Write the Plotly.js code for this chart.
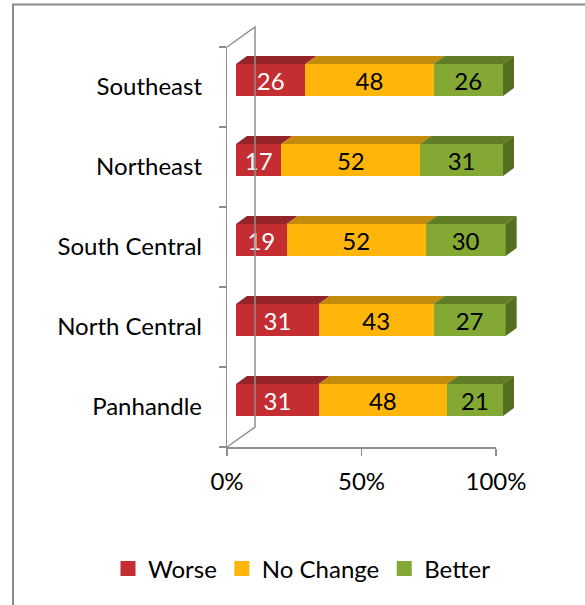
<!DOCTYPE html>
<html>
<head>
<meta charset="utf-8">
<script src="https://cdn.plot.ly/plotly-3.0.1.min.js"></script>
<style>html,body{margin:0;padding:0;background:#fff;}#chart{width:585px;height:605px;}</style>
</head>
<body>
<div id="chart"></div>
<script>
// ---- data ----
var regions = ["Panhandle", "North Central", "South Central", "Northeast", "Southeast"];
var worse = [31, 31, 19, 17, 26];
var noChange = [48, 43, 52, 52, 48];
var better = [21, 27, 30, 31, 26];
var seriesNames = ["Worse", "No Change", "Better"];
var xTickVals = [0, 50, 100];
var xTickText = ["0%", "50%", "100%"];

// ---- style ----
var frontColors = ["#C42D31", "#FFB50A", "#83A934"];
var topColors = ["#952429", "#C38B0B", "#617E26"];
var sideColor = "#52701F";
var textColors = ["#FFFFFF", "#000000", "#000000"];
var axisGray = "#8f8f8f";
var FONT = "Lato, 'Open Sans', sans-serif";
var FS = 24;

// plot-area in pixels
var W0 = 585, H0 = 605;
var L = 100, R = 585, T = 20, B = 460;
var PW = R - L, PH = B - T;
function px2x(p) { return (p - L) / PW; }
function px2y(p) { return (B - p) / PH; }

var pxPerUnit = 2.67;          // bar x scale (px per %)
var barLeftPx = 236;           // 0% of bar front face
var xMax = 110;
var catPx = 80;                // px per category
var barTopPx = 40;             // top of y range (-0.5..4.5)
var depthDx = 11, depthDy = 8; // bar depth in px
var dxu = depthDx / pxPerUnit, dyu = depthDy / catPx;
var barW = 0.4;

var series = [worse, noChange, better];
var ys = regions.map(function (r, i) { return i; });

var traces = [];
series.forEach(function (vals, s) {
  traces.push({
    type: "bar", orientation: "h", name: seriesNames[s],
    x: vals, y: ys, width: barW,
    marker: { color: frontColors[s], line: { width: 0 } },
    text: vals.map(String), textposition: "inside", insidetextanchor: "middle",
    textangle: 0, constraintext: "none",
    textfont: { family: FONT, size: FS, color: textColors[s] },
    hoverinfo: "skip", xaxis: "x", yaxis: "y", showlegend: false, legendgroup: seriesNames[s]
  });
});

// 3D faces computed from data
regions.forEach(function (r, i) {
  var cum = 0;
  var top = i + barW / 2, bot = i - barW / 2;
  series.forEach(function (vals, s) {
    var x0 = cum, x1 = cum + vals[i];
    cum = x1;
    traces.push({
      type: "scatter", mode: "lines", fill: "toself", fillcolor: topColors[s],
      x: [x0, x1, x1 + dxu, x0 + dxu, x0],
      y: [top, top, top + dyu, top + dyu, top],
      line: { width: 0, color: topColors[s] }, showlegend: false, hoverinfo: "skip",
      xaxis: "x", yaxis: "y"
    });
    if (s === series.length - 1) {
      traces.push({
        type: "scatter", mode: "lines", fill: "toself", fillcolor: sideColor,
        x: [x1, x1 + dxu, x1 + dxu, x1, x1],
        y: [top, top + dyu, bot + dyu, bot, top],
        line: { width: 0, color: sideColor }, showlegend: false, hoverinfo: "skip",
        xaxis: "x", yaxis: "y"
      });
    }
  });
});

// legend entries (square swatches)
seriesNames.forEach(function (n, s) {
  traces.push({
    type: "scatter", mode: "markers", name: n, x: [null], y: [null],
    marker: { symbol: "square", size: 15, color: frontColors[s], line: { width: 0 } },
    xaxis: "x", yaxis: "y", hoverinfo: "skip", legendgroup: n
  });
});

// front axis geometry (px)
var axL = 227, axR = 496, axTop = 47, axBot = 447;
var wallDx = 28, wallDy = -20;

var layout = {
  width: W0, height: H0,
  margin: { l: L, r: W0 - R, t: T, b: H0 - B, pad: 0 },
  paper_bgcolor: "#ffffff", plot_bgcolor: "rgba(0,0,0,0)",
  barmode: "stack", bargap: 0,
  showlegend: true, hovermode: false,
  font: { family: FONT, size: FS, color: "#000" },
  xaxis: {
    domain: [px2x(barLeftPx), px2x(barLeftPx + xMax * pxPerUnit)],
    range: [0, xMax], visible: false, fixedrange: true, anchor: "y"
  },
  yaxis: {
    domain: [px2y(barTopPx + 5 * catPx), px2y(barTopPx)],
    range: [-0.5, 4.5], visible: false, fixedrange: true, anchor: "x"
  },
  xaxis2: {
    domain: [px2x(axL), px2x(axR)], range: [0, 100], anchor: "y2",
    showline: true, linecolor: axisGray, linewidth: 1.5, showgrid: false, zeroline: false,
    ticks: "outside", ticklen: 7, tickwidth: 1.5, tickcolor: axisGray,
    tickvals: xTickVals, ticktext: xTickText, ticklabelstandoff: 6,
    tickfont: { family: FONT, size: FS, color: "#000" }
  },
  yaxis2: {
    domain: [px2y(axBot), px2y(axTop)], range: [-0.5, 4.5], anchor: "x2",
    showline: true, linecolor: axisGray, linewidth: 1.5, showgrid: false, zeroline: false,
    ticks: "outside", ticklen: 7, tickwidth: 1.5, tickcolor: axisGray,
    tickvals: [-0.5, 0.5, 1.5, 2.5, 3.5, 4.5], showticklabels: false
  },
  yaxis3: {
    overlaying: "y2", anchor: "x2", range: [-0.5, 4.5], side: "left",
    showline: false, showgrid: false, zeroline: false, ticks: "",
    tickvals: ys, ticktext: regions, ticklabelstandoff: 24,
    tickfont: { family: FONT, size: FS, color: "#000" }
  },
  legend: {
    orientation: "h", traceorder: "normal",
    x: px2x(302), xanchor: "center", y: px2y(569), yanchor: "middle",
    font: { family: FONT, size: FS, color: "#000" }, itemwidth: 30
  },
  shapes: [
    { type: "path", xref: "paper", yref: "paper",
      path: "M" + px2x(axL) + "," + px2y(axTop) + " L" + px2x(axL + wallDx) + "," + px2y(axTop + wallDy) +
            " L" + px2x(axL + wallDx) + "," + px2y(axBot + wallDy) + " L" + px2x(axL) + "," + px2y(axBot),
      line: { color: axisGray, width: 1.5 } },
    { type: "path", xref: "paper", yref: "paper",
      path: "M" + px2x(13) + "," + px2y(620) + " L" + px2x(13) + "," + px2y(4.5) + " L" + px2x(600) + "," + px2y(4.5),
      line: { color: "#8a8a8a", width: 2 } }
  ]
};

// dummy traces to activate axes 2 / 3
traces.push({ type: "scatter", x: [null], y: [null], xaxis: "x2", yaxis: "y2", showlegend: false, hoverinfo: "skip" });
traces.push({ type: "scatter", x: [null], y: [null], xaxis: "x2", yaxis: "y3", showlegend: false, hoverinfo: "skip" });

Plotly.newPlot("chart", traces, layout, { displayModeBar: false, staticPlot: true });
</script>
</body>
</html>
